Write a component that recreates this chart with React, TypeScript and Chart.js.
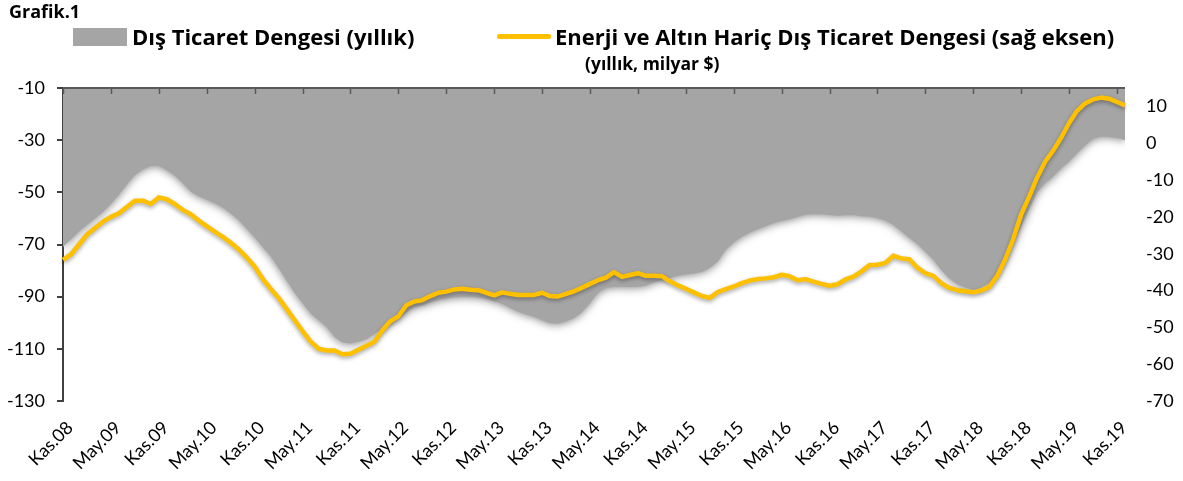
import React, { useEffect, useRef } from 'react';
import { Chart, registerables } from 'chart.js';

// ---------- DATA ----------
const monthNames = ['Oca', 'Şub', 'Mar', 'Nis', 'May', 'Haz', 'Tem', 'Ağu', 'Eyl', 'Eki', 'Kas', 'Ara'];
const startYear = 2008;
const startMonthIndex = 10; // Kas (Kasım)

// Dış Ticaret Dengesi (yıllık, milyar $) – left axis
const tradeBalance = [
  -71.0, -68.0, -65.0, -62.5, -60.0, -57.5, -54.5, -51.0, -47.0, -43.4, -41.2, -39.8,
  -39.8, -41.5, -43.5, -46.5, -49.8, -51.5, -52.8, -54.2, -55.8, -58.0, -60.6, -64.0,
  -67.3, -71.0, -74.5, -79.0, -83.8, -88.5, -92.5, -96.5, -99.0, -101.5, -105.5, -107.6,
  -108.0, -107.3, -106.3, -104.2, -102.3, -100.3, -98.3, -96.0, -94.0, -93.3, -92.2, -91.3,
  -90.7, -90.2, -90.0, -90.0, -90.3, -90.8, -91.8, -92.7, -94.3, -95.8, -96.8, -97.7,
  -99.0, -100.2, -100.4, -99.5, -98.3, -96.0, -92.5, -88.5, -86.7, -86.2, -86.2, -86.3,
  -86.2, -85.8, -84.5, -83.5, -82.8, -82.0, -81.5, -81.1, -80.5, -79.0, -76.5, -72.0,
  -69.2, -67.0, -65.5, -64.2, -63.0, -61.8, -61.0, -60.3, -59.5, -58.5, -58.4, -58.4,
  -58.7, -59.0, -58.8, -58.7, -59.2, -59.3, -59.9, -60.8, -62.5, -65.0, -67.5, -69.8,
  -72.8, -75.8, -79.8, -83.0, -85.2, -86.5, -87.4, -86.5, -84.8, -81.5, -76.5, -70.0,
  -63.0, -56.5, -50.0, -46.5, -44.0, -40.8, -38.3, -35.0, -32.0, -29.5, -28.6, -28.7,
  -29.2, -30.0,
];

// Enerji ve Altın Hariç Dış Ticaret Dengesi (sağ eksen)
const coreBalance = [
  -31.7, -30.2, -27.5, -24.8, -23.0, -21.3, -20.0, -19.0, -17.3, -15.6, -15.6, -16.5,
  -14.7, -15.2, -16.5, -18.1, -19.3, -21.0, -22.5, -24.0, -25.4, -27.0, -28.8, -31.0,
  -33.5, -36.8, -39.5, -42.0, -45.0, -48.0, -51.0, -53.8, -55.8, -56.3, -56.3, -57.3,
  -57.2, -56.1, -55.0, -53.9, -50.8, -48.3, -47.0, -44.0, -43.0, -42.6, -41.5, -40.6,
  -40.3, -39.7, -39.5, -39.8, -39.9, -40.6, -41.3, -40.5, -40.9, -41.2, -41.2, -41.2,
  -40.6, -41.5, -41.6, -40.9, -40.2, -39.2, -38.2, -37.2, -36.5, -35.0, -36.3, -35.8,
  -35.3, -36.0, -36.0, -36.1, -37.5, -38.6, -39.5, -40.5, -41.5, -42.0, -40.4, -39.6,
  -38.9, -38.0, -37.3, -36.9, -36.7, -36.4, -35.7, -36.1, -37.2, -36.9, -37.6, -38.2,
  -38.7, -38.3, -37.0, -36.2, -34.8, -33.1, -33.0, -32.5, -30.5, -31.3, -31.5, -33.8,
  -35.3, -36.0, -38.0, -39.3, -39.9, -40.2, -40.5, -40.0, -39.0, -36.0, -31.5, -26.0,
  -19.3, -14.5, -9.3, -5.0, -2.0, 1.5, 5.5, 8.8, 10.8, 11.9, 12.4, 12.1,
  11.2, 10.3,
];

const leftTicks = [-130, -110, -90, -70, -50, -30, -10];
const rightTicks = [-70, -60, -50, -40, -30, -20, -10, 0, 10];
const labelEvery = 6;

const categories: string[] = coreBalance.map((_, i) => {
  const m = (startMonthIndex + i) % 12;
  const y = startYear + Math.floor((startMonthIndex + i) / 12);
  return `${monthNames[m]}.${String(y % 100).padStart(2, '0')}`;
});

const FONT = 'Lato, "Open Sans", "Noto Sans", sans-serif';
const BOLD_FONT = '"Open Sans", Lato, "Noto Sans", sans-serif';
const GRAY = '#A5A5A5';
const YELLOW = '#FFC000';

// shadow plugin (registered before the filler so its hook runs first)
const softShadow = {
  id: 'softShadow',
  beforeDatasetDraw(chart: any, args: any) {
    const ds: any = chart.data.datasets[args.index];
    if (!ds || !ds.shadowBlur) return;
    const ctx = chart.ctx;
    ctx.save();
    ctx.shadowColor = ds.shadowColor;
    ctx.shadowBlur = ds.shadowBlur;
    ctx.shadowOffsetX = 0;
    ctx.shadowOffsetY = ds.shadowOffsetY || 0;
    (chart as any).$shadowOn = true;
  },
  afterDatasetDraw(chart: any) {
    if ((chart as any).$shadowOn) {
      chart.ctx.restore();
      (chart as any).$shadowOn = false;
    }
  },
};

Chart.register(softShadow as any);
Chart.register(...registerables);

const topAxis = {
  id: 'topAxis',
  afterDatasetsDraw(chart: any) {
    const { ctx, chartArea } = chart;
    const x = chart.scales.x;
    ctx.save();
    ctx.strokeStyle = '#595959';
    ctx.lineWidth = 2;
    ctx.beginPath();
    ctx.moveTo(chartArea.left, chartArea.top);
    ctx.lineTo(chartArea.right, chartArea.top);
    ctx.stroke();
    ctx.lineWidth = 1.5;
    for (let i = 0; i < categories.length; i += labelEvery) {
      const px = Math.round(x.getPixelForValue(i)) + 0.5;
      ctx.beginPath();
      ctx.moveTo(px, chartArea.top);
      ctx.lineTo(px, chartArea.top + 6);
      ctx.stroke();
    }
    ctx.restore();
  },
};

export default function App() {
  const ref = useRef<HTMLCanvasElement | null>(null);

  useEffect(() => {
    if (!ref.current) return;
    const chart = new Chart(ref.current, {
      type: 'line',
      data: {
        labels: categories,
        datasets: [
          {
            label: 'Enerji ve Altın Hariç Dış Ticaret Dengesi (sağ eksen)',
            data: coreBalance,
            yAxisID: 'y2',
            borderColor: YELLOW,
            borderWidth: 4.5,
            pointRadius: 0,
            tension: 0,
            fill: false,
            borderJoinStyle: 'round',
            shadowColor: 'rgba(0,0,0,0.35)',
            shadowBlur: 4,
            shadowOffsetY: 2,
          } as any,
          {
            label: 'Dış Ticaret Dengesi (yıllık)',
            data: tradeBalance,
            yAxisID: 'y',
            borderColor: GRAY,
            borderWidth: 0,
            backgroundColor: GRAY,
            pointRadius: 0,
            tension: 0,
            fill: 'end',
            shadowColor: 'rgba(120,120,120,0.9)',
            shadowBlur: 9,
            shadowOffsetY: 1,
          } as any,
        ],
      },
      options: {
        animation: false,
        responsive: false,
        layout: { padding: { top: 88, left: 0, right: 0, bottom: 0 } },
        plugins: { legend: { display: false }, tooltip: { enabled: false } },
        scales: {
          x: {
            type: 'category',
            grid: { display: false, drawTicks: false },
            border: { display: false },
            ticks: {
              autoSkip: false,
              maxRotation: 45,
              minRotation: 45,
              padding: 16,
              labelOffset: 7,
              color: '#000',
              font: { family: FONT, size: 18 },
              callback: (_v: any, i: number) => (i % labelEvery === 0 ? categories[i] : ''),
            },
            afterFit: (s: any) => {
              s.height = 80;
            },
          },
          y: {
            position: 'left',
            min: -130,
            max: -10,
            afterBuildTicks: (axis: any) => {
              axis.ticks = leftTicks.map((v) => ({ value: v }));
            },
            border: { display: true, color: '#404040', width: 2 },
            grid: { display: true, drawOnChartArea: false, drawTicks: true, tickLength: 6, color: '#404040', lineWidth: 2 },
            ticks: { color: '#000', padding: 12, font: { family: FONT, size: 18 } },
            afterFit: (s: any) => {
              s.width = 63;
            },
          },
          y2: {
            position: 'right',
            min: -70,
            max: 15,
            afterBuildTicks: (axis: any) => {
              axis.ticks = rightTicks.map((v) => ({ value: v }));
            },
            border: { display: false },
            grid: { display: false, drawTicks: false, tickLength: 0 },
            ticks: { color: '#000', padding: 21, font: { family: FONT, size: 18 } },
            afterFit: (s: any) => {
              s.width = 58;
            },
          },
        },
      },
      plugins: [topAxis as any],
    });
    return () => chart.destroy();
  }, []);

  const bold = { fontFamily: BOLD_FONT, fontWeight: 700 as const, color: '#000', position: 'absolute' as const, whiteSpace: 'nowrap' as const };

  return (
    <div style={{ position: 'absolute', left: 0, top: 0, width: 1183, height: 481, background: '#fff', overflow: 'hidden' }}>
      <canvas ref={ref} width={1183} height={481} style={{ position: 'absolute', left: 0, top: 0, display: 'block' }} />
      <div style={{ ...bold, left: 9, top: -1, fontSize: 18, lineHeight: '24px' }}>Grafik.1</div>
      <div style={{ position: 'absolute', left: 73, top: 28, width: 54, height: 18, background: GRAY }} />
      <div style={{ ...bold, left: 132, top: 22, fontSize: 22, lineHeight: '29px' }}>Dış Ticaret Dengesi (yıllık)</div>
      <div style={{ position: 'absolute', left: 497, top: 34, width: 54, height: 4.5, background: YELLOW, borderRadius: 2 }} />
      <div style={{ ...bold, left: 555, top: 22, fontSize: 22, lineHeight: '29px' }}>Enerji ve Altın Hariç Dış Ticaret Dengesi (sağ eksen)</div>
      <div style={{ ...bold, left: 585, top: 51, fontSize: 17.5, lineHeight: '24px' }}>(yıllık, milyar $)</div>
    </div>
  );
}
